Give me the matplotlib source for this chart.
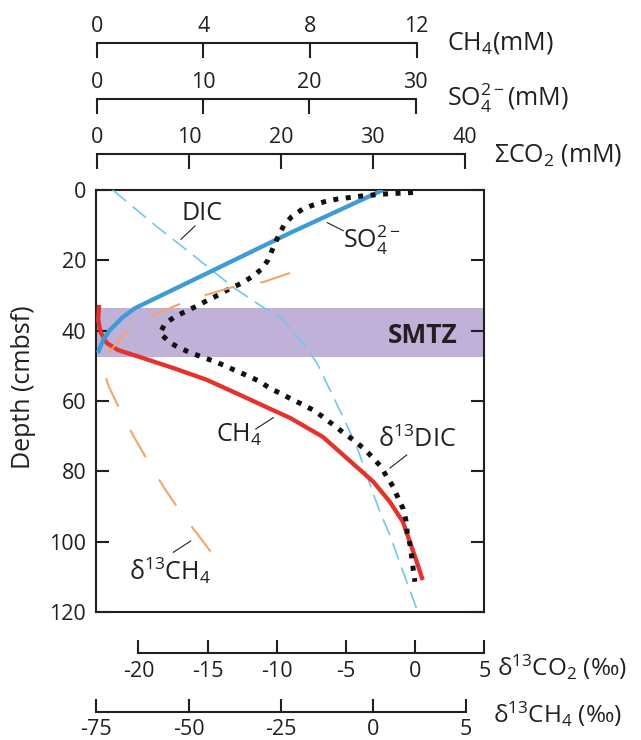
import matplotlib
matplotlib.use('Agg')
import matplotlib.pyplot as plt
from matplotlib.lines import Line2D

# ---- data ----
depth_ticks = [0, 20, 40, 60, 80, 100, 120]
smtz_top, smtz_bottom = 33.5, 47.5

so4_depth = [0, 12.2, 23.0, 33.6, 36.1, 39.8, 42.7, 46.3]
so4_conc = [26.94, 18.2, 10.84, 3.59, 2.46, 1.23, 0.57, 0.10]

ch4_depth = [32.7, 37.0, 40.5, 43.5, 45.5, 47.5, 50.6, 54.0, 58.3, 62.6,
             64.8, 70.2, 78.8, 83.0, 88.7, 94.4, 100.1, 105.8, 110.9]
ch4_conc = [0.08, 0.05, 0.14, 0.37, 0.79, 1.61, 2.86, 4.13, 5.38, 6.61,
            7.25, 8.48, 9.76, 10.38, 11.0, 11.49, 11.75, 12.01, 12.23]

dic_depth = [0, 10.5, 17.9, 27.6, 33.3, 36.1, 39.8, 44.6, 49.2, 56.9,
             64.5, 73.1, 83.9, 91.6, 98.1, 107.5, 119.4]
dic_conc = [1.72, 6.55, 10.16, 14.79, 18.04, 19.89, 21.19, 22.73, 23.92,
            25.35, 26.75, 28.28, 29.71, 30.78, 31.85, 33.14, 34.81]

d13dic_depth = [0.7, 1.1, 1.7, 2.6, 3.3, 4.3, 5.4, 7.6, 10.0, 13.3, 16.5,
                19.9, 22.5, 24.7, 26.5, 28.0, 29.9, 31.3, 33.0, 34.4, 36.0,
                38.0, 40.7, 43.4, 45.0, 46.4, 47.6, 48.8, 50.2, 51.7, 53.1,
                54.5, 56.4, 58.0, 59.5, 61.1, 62.6, 64.6, 66.8, 69.0, 71.1,
                73.4, 75.8, 78.5, 81.5, 84.4, 87.7, 90.7, 94.1, 97.6, 100.9,
                104.3, 108.0, 111.4]
d13dic_val = [-0.26, -2.15, -3.95, -5.75, -6.59, -7.45, -8.19, -8.99, -9.54,
              -9.97, -10.33, -10.69, -11.14, -11.86, -12.58, -13.42, -14.29,
              -15.01, -15.82, -16.54, -17.38, -18.10, -18.46, -17.74, -17.02,
              -16.18, -15.35, -14.50, -13.66, -12.83, -11.99, -11.27, -10.55,
              -9.71, -8.99, -8.15, -7.43, -6.71, -5.99, -5.27, -4.55, -3.83,
              -3.23, -2.60, -2.15, -1.68, -1.32, -0.96, -0.76, -0.67, -0.47,
              -0.35, -0.24, -0.12]

d13ch4_depth = [23.6, 26.2, 27.6, 29.9, 32.7, 36.1, 40.7, 46.9, 51.2, 55.4,
                63.1, 70.2, 77.6, 84.7, 91.8, 98.4, 105.2]
d13ch4_val = [-22.5, -29.8, -38.0, -45.5, -53.1, -60.4, -67.2, -72.1, -72.9,
              -71.8, -68.3, -64.8, -60.7, -56.6, -52.0, -47.2, -42.3]

ch4_ticks = [0, 4, 8, 12]
so4_ticks = [0, 10, 20, 30]
co2_ticks = [0, 10, 20, 30, 40]
d13co2_ticks = [-20, -15, -10, -5, 0, 5]
d13ch4_ticks = [-75, -50, -25, 0, 25]
d13ch4_ticklabels = ['-75', '-50', '-25', '0', '5']

# ---- layout ----
W_PX, H_PX = 641, 740
L_PX, R_PX, T_PX, B_PX = 96.0, 484.3, 190.0, 612.0


def fx(x):
    return x / W_PX


def fy(y):
    return 1 - y / H_PX


def lims(v0, p0, k):
    """x limits for a scale where value v0 sits at pixel p0, k px per unit."""
    return (v0 + (L_PX - p0) / k, v0 + (R_PX - p0) / k)


ch4_lim = lims(0, 96.9, 26.64)
so4_lim = lims(0, 96.9, 10.62)
co2_lim = lims(0, 96.9, 9.1975)
d13co2_lim = lims(-20, 138.6, 13.9)
d13ch4_lim = lims(-75, 96.2, 3.693)

plt.rcParams.update({'font.family': ['Open Sans', 'DejaVu Sans'],
                     'mathtext.fontset': 'custom',
                     'mathtext.rm': 'Open Sans',
                     'mathtext.it': 'Open Sans:italic',
                     'mathtext.bf': 'Open Sans:bold',
                     'axes.unicode_minus': False,
                     'text.color': '#231f20'})

fig = plt.figure(figsize=(W_PX / 100, H_PX / 100), dpi=100)

ax = fig.add_axes([fx(L_PX), fy(B_PX), fx(R_PX) - fx(L_PX), fy(T_PX) - fy(B_PX)])
ax.set_xlim(0, 1)
ax.set_ylim(120, 0)
ax.set_xticks([])
ax.set_yticks(depth_ticks)
ax.tick_params(axis='y', direction='in', length=9.5, width=1.5, right=True,
               labelsize=15.5, pad=7, colors='#231f20')
for s in ax.spines.values():
    s.set_linewidth(1.5)
    s.set_color('#231f20')
ax.axhspan(smtz_top, smtz_bottom, color='#bfb1d7', lw=0, zorder=0)


def scale_bar(y_px, xlim, ticks, labels, top, length, pad):
    a = fig.add_axes([fx(L_PX), fy(y_px), fx(R_PX) - fx(L_PX), 1e-4])
    a.set_xlim(*xlim)
    a.set_yticks([])
    a.patch.set_visible(False)
    for s in a.spines.values():
        s.set_visible(False)
    sp = 'top' if top else 'bottom'
    a.spines[sp].set_visible(True)
    a.spines[sp].set_bounds(ticks[0], ticks[-1])
    a.spines[sp].set_linewidth(1.5)
    a.spines[sp].set_color('#231f20')
    a.set_xticks(ticks)
    a.set_xticklabels(labels)
    a.tick_params(axis='x', direction='in', length=length, width=1.5,
                  labelsize=15.5, pad=pad, top=top, labeltop=top,
                  bottom=not top, labelbottom=not top, colors='#231f20')
    return a


scale_bar(43, ch4_lim, ch4_ticks, [str(t) for t in ch4_ticks], True, 10.8, 4)
scale_bar(99, so4_lim, so4_ticks, [str(t) for t in so4_ticks], True, 10.8, 4)
scale_bar(154, co2_lim, co2_ticks, [str(t) for t in co2_ticks], True, 10.8, 4)
scale_bar(652.7, d13co2_lim, d13co2_ticks, [str(t) for t in d13co2_ticks], False, 9.4, 6)
scale_bar(711.7, d13ch4_lim, d13ch4_ticks, d13ch4_ticklabels, False, 9.4, 5)


def overlay(xlim):
    t = ax.twiny()
    t.set_xlim(*xlim)
    t.axis('off')
    return t


overlay(co2_lim).plot(dic_conc, dic_depth, color='#6ec8f0', lw=1.2,
                      linestyle=(0, (10.5, 5)))
overlay(ch4_lim).plot(ch4_conc, ch4_depth, color='#e5322a', lw=3.1,
                      solid_capstyle='butt', solid_joinstyle='round')
overlay(so4_lim).plot(so4_conc, so4_depth, color='#3d9bd8', lw=3.1,
                      solid_capstyle='butt', solid_joinstyle='round')
overlay(d13co2_lim).plot(d13dic_val, d13dic_depth, color='#111111', lw=3.6,
                         linestyle=(0, (1, 1.5)))
overlay(d13ch4_lim).plot(d13ch4_val, d13ch4_depth, color='#f6a565', lw=1.5,
                         linestyle=(0, (15, 12.5)))

# ---- texts ----
fig.text(fx(447), fy(50), 'CH$_4$(mM)', fontsize=18, ha='left', va='baseline')
fig.text(fx(447), fy(106), 'SO$_4^{2-}$(mM)', fontsize=18, ha='left', va='baseline')
fig.text(fx(494), fy(161.7), '\u03a3CO$_2$ (mM)', fontsize=18, ha='left', va='baseline')
fig.text(fx(497), fy(676), '\u03b4$^{13}$CO$_2$ (\u2030)', fontsize=17.5, ha='left', va='baseline')
fig.text(fx(493), fy(723.3), '\u03b4$^{13}$CH$_4$ (\u2030)', fontsize=17.5, ha='left', va='baseline')
fig.text(fx(24), fy(387), 'Depth (cmbsf)', fontsize=18, rotation=90,
         ha='center', va='center')

fig.text(fx(422.5), fy(343), 'SMTZ', fontsize=19, fontweight='bold',
         ha='center', va='baseline')

curve_labels = [
    ('DIC', 201.7, 220, (181, 239.3, 195, 226)),
    ('SO$_4^{2-}$', 372, 248, (327.3, 222.7, 343.3, 230.7)),
    ('CH$_4$', 239.5, 442, (255.7, 429, 273.3, 417.7)),
    ('\u03b4$^{13}$DIC', 417, 447, (390, 468, 406.7, 455)),
    ('\u03b4$^{13}$CH$_4$', 170, 580, (173.3, 552.3, 190.7, 541)),
]
for txt, x, y, (x1, y1, x2, y2) in curve_labels:
    fig.text(fx(x), fy(y), txt, fontsize=18, ha='center', va='baseline')
    fig.add_artist(Line2D([fx(x1), fx(x2)], [fy(y1), fy(y2)],
                          transform=fig.transFigure, lw=0.8, color='#231f20'))

fig.savefig('out.png', dpi=100)
